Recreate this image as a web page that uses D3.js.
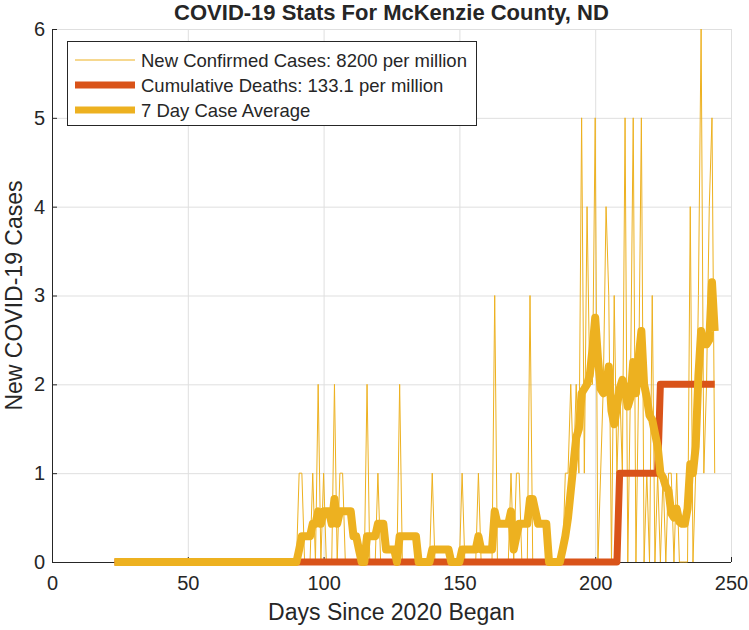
<!DOCTYPE html>
<html>
<head>
<meta charset="utf-8">
<script src="https://cdn.jsdelivr.net/npm/d3@7"></script>
<style>
  body { margin: 0; background: #fff; }
  text { font-family: "Liberation Sans", Arial, Helvetica, sans-serif; fill: #262626; }
</style>
</head>
<body>
<svg width="749" height="630"></svg>
<script>
// Data (one value per day, starting at day 23)
const startDay = 23;
const newCases = [
  0,0,0,0,0,0,0,0,0,0,0,0,0,0,0,0,0,0,0,0,0,0,0,0,0,0,0,0,0,0,0,0,0,0,
  0,0,0,0,0,0,0,0,0,0,0,0,0,0,0,0,0,0,0,0,0,0,0,0,0,0,0,0,0,0,0,0,0,0,
  1,1,0,0,0,1,0,2,0,1,
  0,0,0,2,0,1,1,0,0,0,
  0,0,0,0,0,2,0,0,0,1,
  0,0,0,0,0,0,0,2,0,0,
  0,0,0,0,0,0,0,0,0,1,
  0,0,0,0,0,0,0,0,0,0,
  1,0,0,0,0,0,1,0,0,0,
  0,0,3,0,0,0,0,0,1,0,
  1,1,0,0,0,3,0,0,0,0,
  0,0,0,0,0,0,0,0,1,1,
  2,1,2,1,5,1,4,2,2,5,
  0,1,2,4,3,0,3,1,2,1,
  5,0,2,5,0,2,5,0,1,0,
  3,0,1,0,1,0,1,1,0,1,
  0,0,0,0,4,0,1,3,6,1,
  2,4,5,1
];
const caseAverage = [
  0,0,0,0,0,0,0,0,0,0,0,0,0,0,0,0,0,0,0,0,0,0,0,0,0,0,0,0,0,0,0,0,0,0,
  0,0,0,0,0,0,0,0,0,0,0,0,0,0,0,0,0,0,0,0,0,0,0,0,0,0,0,0,0,0,0,0,0,0,
  0.14,0.29,0.29,0.29,0.29,0.43,0.43,0.57,0.43,0.57,
  0.57,0.57,0.43,0.71,0.43,0.57,0.57,0.57,0.57,0.57,
  0.29,0.29,0.14,0,0,0.29,0.29,0.29,0.29,0.43,
  0.43,0.43,0.14,0.14,0.14,0.14,0,0.29,0.29,0.29,
  0.29,0.29,0.29,0.29,0,0,0,0,0,0.14,
  0.14,0.14,0.14,0.14,0.14,0.14,0,0,0,0,
  0.14,0.14,0.14,0.14,0.14,0.14,0.29,0.14,0.14,0.14,
  0.14,0.14,0.57,0.43,0.43,0.43,0.43,0.43,0.57,0.14,
  0.29,0.43,0.43,0.43,0.43,0.71,0.71,0.57,0.43,0.43,
  0.43,0.43,0,0,0,0,0,0.14,0.29,0.5,
  0.8,1.1,1.4,1.5,1.9,1.95,2.0,2.1,2.4,2.75,
  2.3,1.95,1.9,2.0,2.2,1.7,1.55,1.75,1.95,2.05,
  1.95,1.75,1.85,2.25,1.9,2.3,2.6,2.0,1.85,1.65,
  1.6,1.45,1.3,1.0,0.95,0.85,0.8,0.55,0.5,0.6,
  0.45,0.43,0.43,0.6,1.1,1.0,1.3,2.1,2.6,2.45,
  2.45,2.5,3.15,2.6
];
const deathDays = [23, 208, 209, 223, 224, 244];
const deathValues = [0, 0, 1, 1, 2, 2];
const xTicks = [0, 50, 100, 150, 200, 250];
const yTicks = [0, 1, 2, 3, 4, 5, 6];
const legendLabels = [
  'New Confirmed Cases: 8200 per million',
  'Cumulative Deaths: 133.1 per million',
  '7 Day Case Average'
];

const svg = d3.select('svg'),
  width = +svg.attr('width'),
  height = +svg.attr('height');

const yellow = '#EDB120', red = '#D95319', axisColor = '#262626';
const plotLeft = 52, plotRight = 731, plotTop = 29, plotBottom = 562;

const x = d3.scaleLinear().domain([0, 250]).range([plotLeft, plotRight]);
const y = d3.scaleLinear().domain([0, 6]).range([plotBottom, plotTop]);

// grid
svg.append('g')
  .selectAll('line')
  .data(xTicks.slice(1))
  .enter()
  .append('line')
  .attr('x1', d => x(d) + 0.5).attr('x2', d => x(d) + 0.5)
  .attr('y1', plotTop).attr('y2', plotBottom)
  .attr('stroke', '#dfdfdf').attr('stroke-width', 1);
svg.append('g')
  .selectAll('line')
  .data(yTicks.slice(1))
  .enter()
  .append('line')
  .attr('x1', plotLeft).attr('x2', plotRight)
  .attr('y1', d => y(d) + 0.5).attr('y2', d => y(d) + 0.5)
  .attr('stroke', '#dfdfdf').attr('stroke-width', 1);

// axes
const xAxis = d3.axisBottom(x).tickValues(xTicks).tickFormat(d3.format('d'))
  .tickSize(-5).tickPadding(14);
const gx = svg.append('g').attr('transform', `translate(0,${plotBottom})`).call(xAxis);
const yAxis = d3.axisLeft(y).tickValues(yTicks).tickFormat(d3.format('d'))
  .tickSize(-5).tickPadding(7);
const gy = svg.append('g').attr('transform', `translate(${plotLeft},0)`).call(yAxis);
[gx, gy].forEach(g => {
  g.select('.domain').attr('stroke', axisColor);
  g.selectAll('.tick line').attr('stroke', axisColor);
  g.selectAll('.tick text')
    .style('font-family', '"Liberation Sans", Arial, sans-serif')
    .style('font-size', '20px')
    .attr('fill', axisColor);
});
gx.select('.domain').attr('d', `M${plotLeft + 0.5},0.5H${plotRight}`);
gy.select('.domain').attr('d', `M0.5,${plotBottom}V${plotTop}`);

// lines
const days = d3.range(startDay, startDay + newCases.length);

const caseLine = d3.line()
  .x((d, i) => x(days[i]))
  .y(d => y(d));

svg.append('path')
  .datum(newCases)
  .attr('d', caseLine)
  .attr('fill', 'none')
  .attr('stroke', yellow)
  .attr('stroke-width', 1);

const deathLine = d3.line()
  .x((d, i) => x(deathDays[i]))
  .y(d => y(d));

svg.append('path')
  .datum(deathValues)
  .attr('d', deathLine)
  .attr('fill', 'none')
  .attr('stroke', red)
  .attr('stroke-width', 7)
  .attr('stroke-linejoin', 'round');

svg.append('path')
  .datum(caseAverage)
  .attr('d', caseLine)
  .attr('fill', 'none')
  .attr('stroke', yellow)
  .attr('stroke-width', 8)
  .attr('stroke-linejoin', 'round');

// title and labels
svg.append('text')
  .attr('x', (plotLeft + plotRight) / 2)
  .attr('y', 20)
  .attr('text-anchor', 'middle')
  .style('font-size', '22px')
  .style('font-weight', 'bold')
  .attr('fill', '#000')
  .text('COVID-19 Stats For McKenzie County, ND');

svg.append('text')
  .attr('x', (plotLeft + plotRight) / 2)
  .attr('y', 620)
  .attr('text-anchor', 'middle')
  .style('font-size', '23px')
  .text('Days Since 2020 Began');

svg.append('text')
  .attr('transform', `translate(22,${(plotTop + plotBottom) / 2}) rotate(-90)`)
  .attr('text-anchor', 'middle')
  .style('font-size', '23px')
  .text('New COVID-19 Cases');

// legend
const legend = svg.append('g');
legend.append('rect')
  .attr('x', 67.5).attr('y', 41.5)
  .attr('width', 409).attr('height', 84)
  .attr('fill', '#fff')
  .attr('stroke', axisColor);
const legendStyles = [
  { color: yellow, w: 1 },
  { color: red, w: 7 },
  { color: yellow, w: 7 }
];
legendLabels.forEach(function (label, i) {
  const ly = 60 + i * 25;
  legend.append('line')
    .attr('x1', 75).attr('x2', 135)
    .attr('y1', ly).attr('y2', ly)
    .attr('stroke', legendStyles[i].color)
    .attr('stroke-width', legendStyles[i].w);
  legend.append('text')
    .attr('x', 141)
    .attr('y', ly + 6.5)
    .style('font-size', '18.5px')
    .text(label);
});
</script>
</body>
</html>
